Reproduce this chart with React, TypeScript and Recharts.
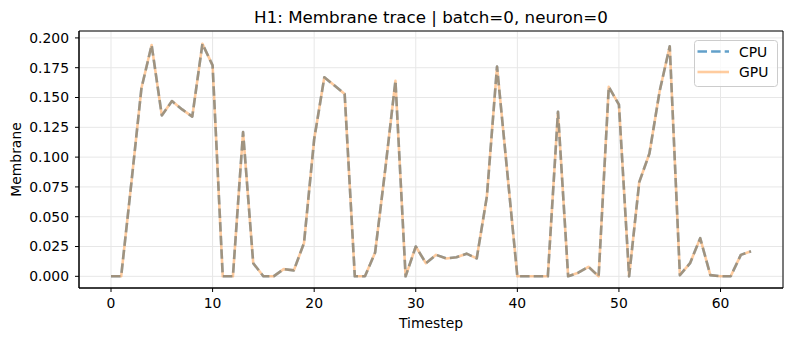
import { CartesianGrid, Label, Legend, Line, LineChart, ReferenceArea, XAxis, YAxis } from "recharts";

const timesteps = [
  0, 1, 2, 3, 4, 5, 6, 7, 8, 9, 10, 11, 12, 13, 14, 15, 16, 17, 18, 19, 20, 21, 22, 23, 24, 25, 26, 27, 28, 29, 30, 31,
  32, 33, 34, 35, 36, 37, 38, 39, 40, 41, 42, 43, 44, 45, 46, 47, 48, 49, 50, 51, 52, 53, 54, 55, 56, 57, 58, 59, 60, 61,
  62, 63,
];

const cpuMembrane = [
  0, 0, 0.078, 0.158, 0.194, 0.135, 0.147, 0.14, 0.134, 0.195, 0.177, 0, 0, 0.121, 0.011, 0,
  0, 0.006, 0.005, 0.028, 0.115, 0.167, 0.16, 0.153, 0, 0, 0.02, 0.09, 0.164, 0, 0.025, 0.011,
  0.018, 0.015, 0.016, 0.019, 0.015, 0.067, 0.176, 0.088, 0, 0, 0, 0, 0.138, 0, 0.003, 0.008,
  0, 0.159, 0.144, 0, 0.079, 0.103, 0.155, 0.193, 0.001, 0.011, 0.032, 0.001, 0, 0, 0.018, 0.021,
];

const gpuMembrane = [
  0, 0, 0.078, 0.158, 0.194, 0.135, 0.147, 0.14, 0.134, 0.195, 0.177, 0, 0, 0.121, 0.011, 0,
  0, 0.006, 0.005, 0.028, 0.115, 0.167, 0.16, 0.153, 0, 0, 0.02, 0.09, 0.164, 0, 0.025, 0.011,
  0.018, 0.015, 0.016, 0.019, 0.015, 0.067, 0.176, 0.088, 0, 0, 0, 0, 0.138, 0, 0.003, 0.008,
  0, 0.159, 0.144, 0, 0.079, 0.103, 0.155, 0.193, 0.001, 0.011, 0.032, 0.001, 0, 0, 0.018, 0.021,
];

const xTicks = [0, 10, 20, 30, 40, 50, 60];
const yTicks = [0, 0.025, 0.05, 0.075, 0.1, 0.125, 0.15, 0.175, 0.2];
const xDomain = [-3.15, 66.15];
const yDomain = [-0.0098, 0.2058];

const data = timesteps.map((t, i) => ({ t, cpu: cpuMembrane[i], gpu: gpuMembrane[i] }));

const FONT = "DejaVu Sans";
const CPU_COLOR = "#1f77b4";
const GPU_COLOR = "#ff7f0e";

function LegendBox(): JSX.Element {
  return (
    <svg width={84} height={47} style={{ display: "block" }}>
      <rect x={0.5} y={0.5} width={83} height={46} rx={3} fill="#fff" fillOpacity={0.8} stroke="#cccccc" />
      <line x1={3.5} x2={35} y1={11.5} y2={11.5} stroke={CPU_COLOR} strokeOpacity={0.7} strokeWidth={2.6} strokeDasharray="9.5 4.1" />
      <line x1={3.5} x2={35} y1={32} y2={32} stroke={GPU_COLOR} strokeOpacity={0.4} strokeWidth={2.6} />
      <text x={45} y={11.5} dominantBaseline="central" fontFamily={FONT} fontSize={13.9} fill="#000">CPU</text>
      <text x={45} y={32} dominantBaseline="central" fontFamily={FONT} fontSize={13.9} fill="#000">GPU</text>
    </svg>
  );
}

export default function App(): JSX.Element {
  return (
    <div style={{ position: "absolute", left: 0, top: 0, width: 790, height: 340, background: "#fff", fontFamily: FONT }}>
      <div style={{ position: "absolute", left: 79, top: 5, width: 704, height: 24, lineHeight: "24px", textAlign: "center", fontSize: 16.7, color: "#000" }}>
        H1: Membrane trace | batch=0, neuron=0
      </div>
      <LineChart width={790} height={340} data={data} margin={{ top: 31, right: 7, bottom: 0, left: 0 }}>
        <CartesianGrid stroke="#e7e7e7" strokeWidth={1} />
        <XAxis
          dataKey="t"
          type="number"
          domain={xDomain}
          ticks={xTicks}
          allowDataOverflow
          height={52}
          tickSize={4}
          tickMargin={6}
          tick={{ fill: "#000", fontSize: 13.9, fontFamily: FONT }}
          tickLine={{ stroke: "#000" }}
          axisLine={{ stroke: "#000" }}
        >
          <Label
            content={({ viewBox }: any) => (
              <text x={viewBox.x + viewBox.width / 2} y={viewBox.y + 40} textAnchor="middle" fontFamily={FONT} fontSize={13.9} fill="#000">
                Timestep
              </text>
            )}
          />
        </XAxis>
        <YAxis
          type="number"
          domain={yDomain}
          ticks={yTicks}
          allowDataOverflow
          width={79}
          tickSize={4}
          tickMargin={6}
          tickFormatter={(v) => Number(v).toFixed(3)}
          tick={{ fill: "#000", fontSize: 13.9, fontFamily: FONT }}
          tickLine={{ stroke: "#000" }}
          axisLine={{ stroke: "#000" }}
        >
          <Label
            content={({ viewBox }: any) => {
              const cx = viewBox.x + 16;
              const cy = viewBox.y + viewBox.height / 2;
              return (
                <text x={cx} y={cy} transform={`rotate(-90 ${cx} ${cy})`} textAnchor="middle" dominantBaseline="central" fontFamily={FONT} fontSize={13.9} fill="#000">
                  Membrane
                </text>
              );
            }}
          />
        </YAxis>
        <Legend
          layout="horizontal"
          verticalAlign="middle"
          align="center"
          wrapperStyle={{ left: 694, top: 40, width: 84, height: 47 }}
          content={() => <LegendBox />}
        />
        <Line
          dataKey="cpu"
          name="CPU"
          type="linear"
          stroke={CPU_COLOR}
          strokeOpacity={0.7}
          strokeWidth={2.6}
          strokeDasharray="9.5 4.1"
          strokeLinejoin="round"
          dot={false}
          activeDot={false}
          isAnimationActive={false}
        />
        <Line
          dataKey="gpu"
          name="GPU"
          type="linear"
          stroke={GPU_COLOR}
          strokeOpacity={0.4}
          strokeWidth={2.6}
          strokeLinejoin="round"
          dot={false}
          activeDot={false}
          isAnimationActive={false}
        />
        <ReferenceArea
          x1={xDomain[0]}
          x2={xDomain[1]}
          y1={yDomain[0]}
          y2={yDomain[1]}
          fill="none"
          stroke="#000"
          strokeWidth={1}
          ifOverflow="visible"
        />
      </LineChart>
    </div>
  );
}
